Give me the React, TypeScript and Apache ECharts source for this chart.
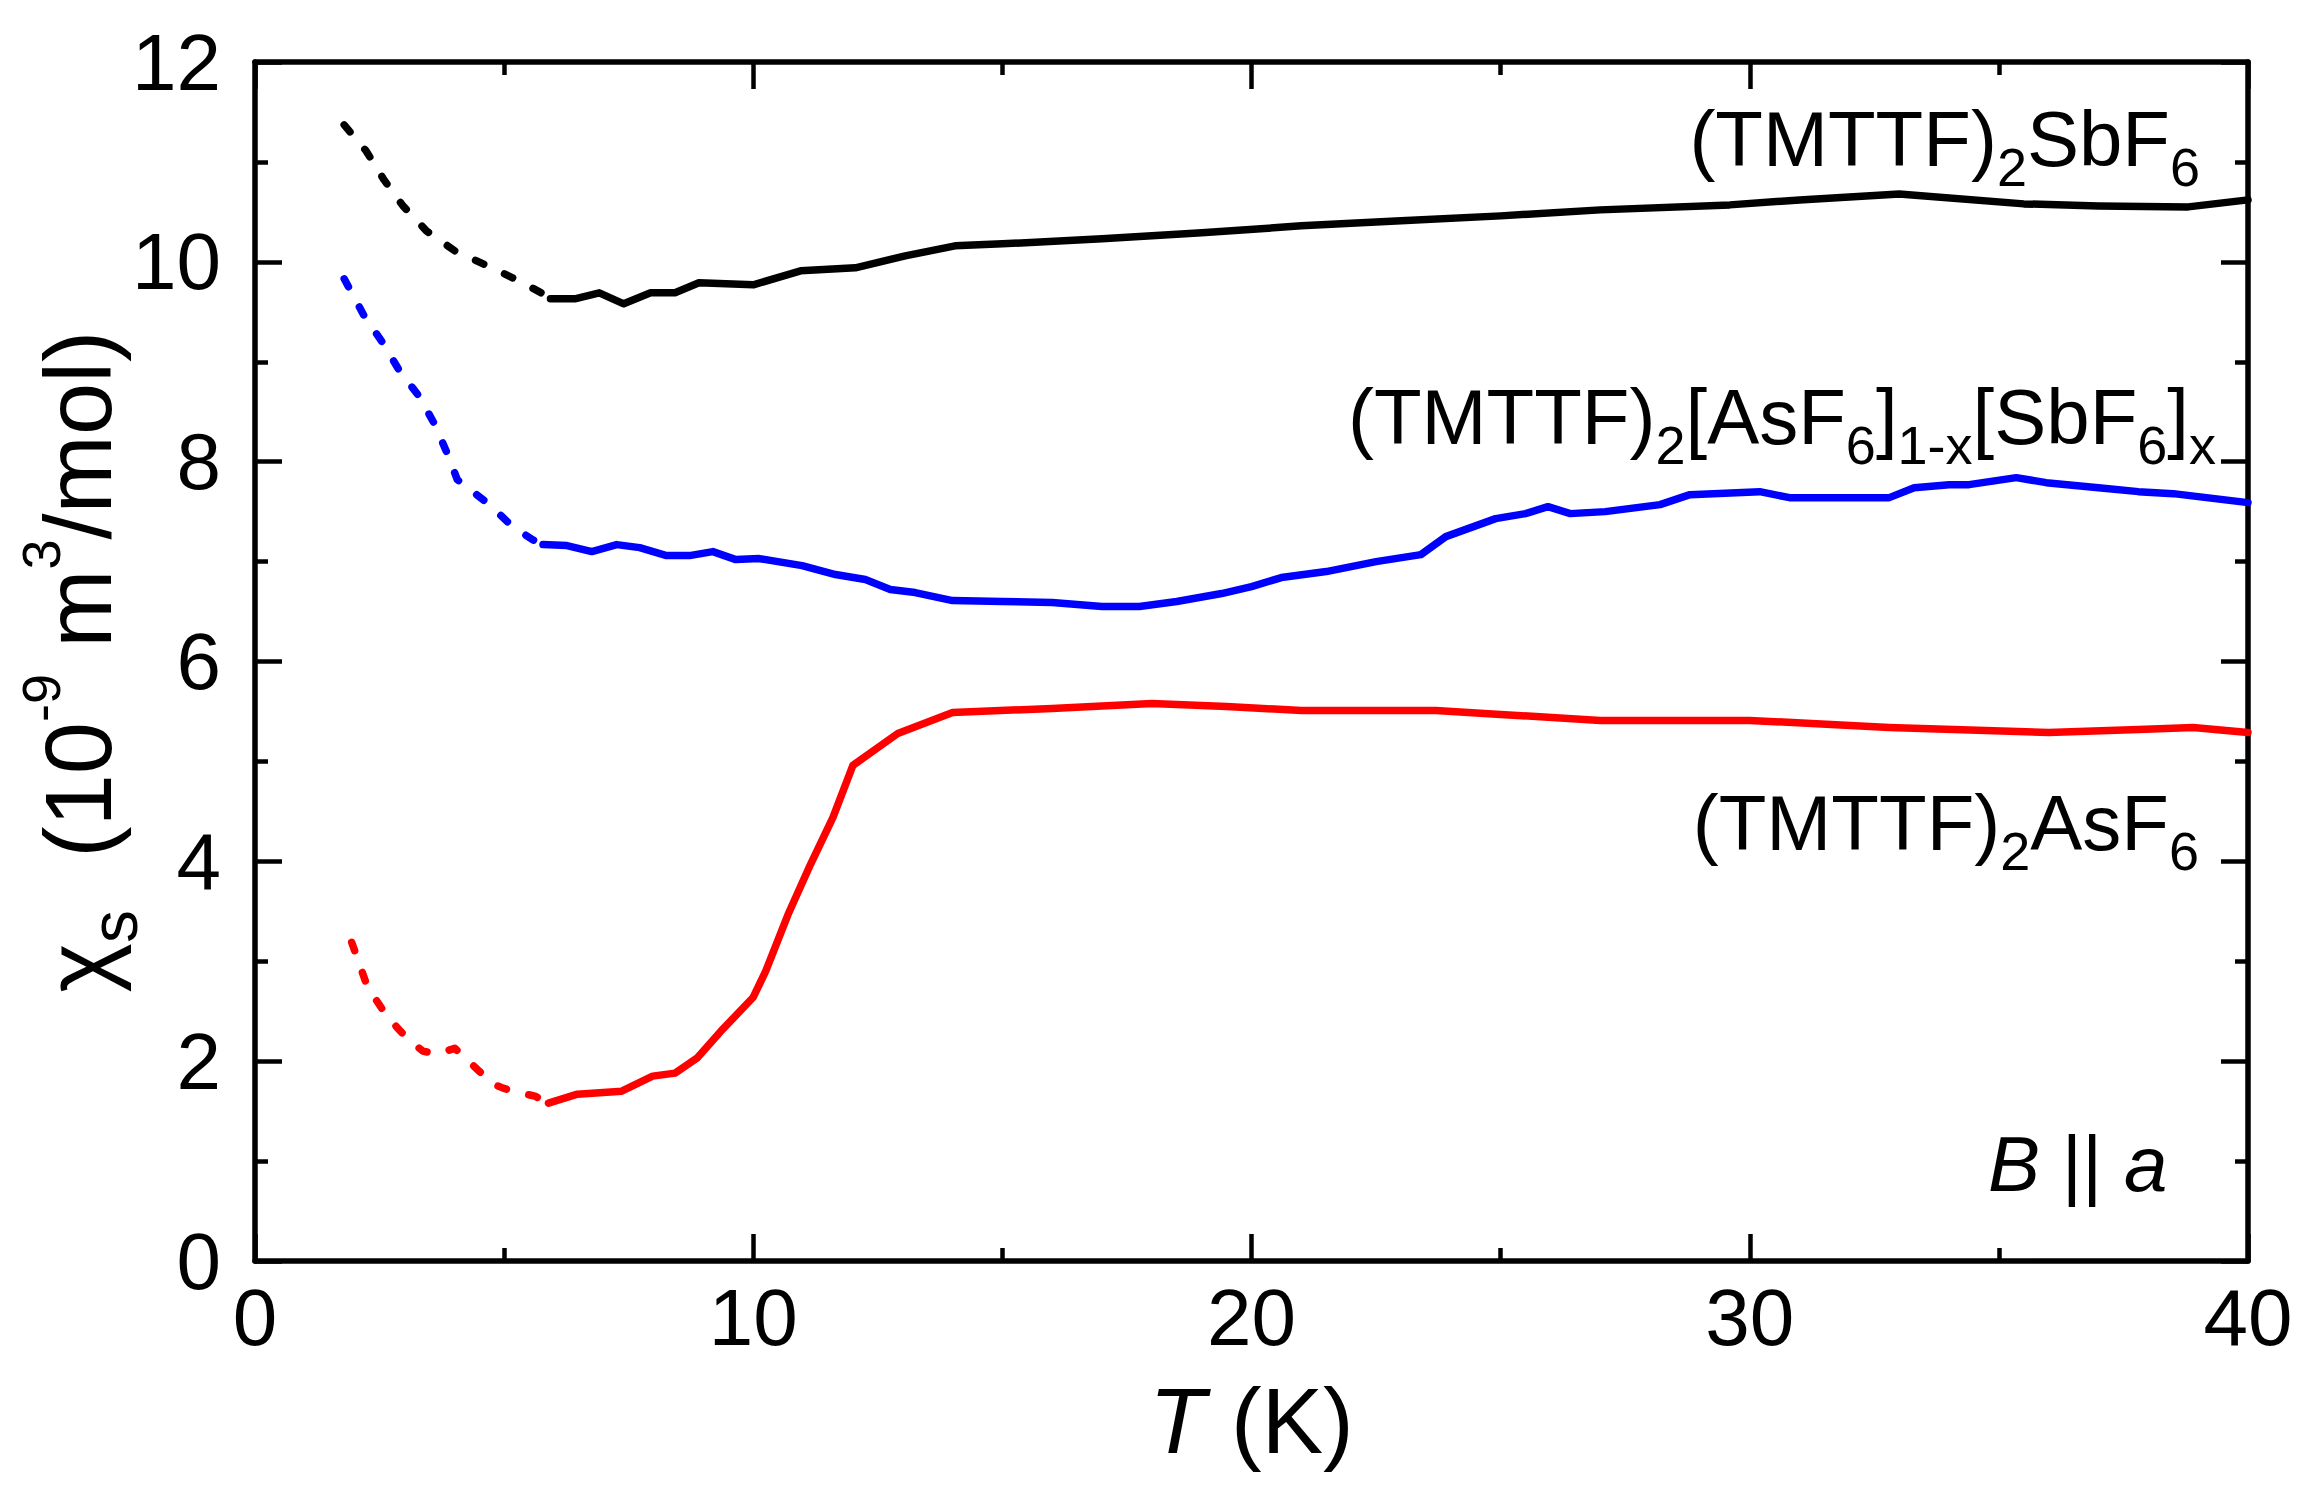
import { useEffect, useRef } from "react";
import * as echarts from "echarts";

const FONT = '"Liberation Sans", Arial, Helvetica, sans-serif';
const W = 2313;
const H = 1507;

// (TMTTF)2SbF6, black
const sbDashT = [1.79, 2.23, 2.59, 2.97, 3.44, 4.01, 4.58, 5.17, 5.71, 5.93];
const sbDashChi = [11.37, 11.11, 10.82, 10.56, 10.31, 10.11, 9.98, 9.84, 9.7, 9.63];
const sbT = [5.93, 6.42, 6.91, 7.4, 7.94, 8.43, 8.91, 10.0, 10.95, 12.05, 13.05, 14.05, 15, 17, 19, 21, 23, 25, 27, 29.6, 31, 33, 35.5, 37, 38.8, 40];
const sbChi = [9.63, 9.63, 9.69, 9.58, 9.69, 9.69, 9.79, 9.77, 9.91, 9.94, 10.06, 10.16, 10.18, 10.23, 10.29, 10.36, 10.41, 10.46, 10.52, 10.57, 10.62, 10.68, 10.58, 10.56, 10.55, 10.62];

// (TMTTF)2[AsF6]1-x[SbF6]x, blue
const mixDashT = [1.79, 2.19, 2.55, 2.9, 3.3, 3.61, 3.86, 4.06, 4.68, 5.17, 5.57, 5.78];
const mixDashChi = [9.83, 9.46, 9.2, 8.91, 8.65, 8.37, 8.08, 7.82, 7.58, 7.35, 7.22, 7.17];
const mixT = [5.78, 6.26, 6.76, 7.26, 7.72, 8.26, 8.72, 9.19, 9.65, 10.12, 10.98, 11.65, 12.25, 12.75, 13.25, 14, 15, 16, 17, 17.75, 18.5, 19.4, 20, 20.6, 21.5, 22.5, 23.4, 23.9, 24.9, 25.5, 25.95, 26.4, 27.1, 28.2, 28.8, 30.2, 30.8, 32.3, 32.8, 33.3, 34, 34.4, 35.35, 35.95, 37, 37.8, 38.5, 40];
const mixChi = [7.17, 7.16, 7.1, 7.17, 7.14, 7.06, 7.06, 7.1, 7.02, 7.03, 6.96, 6.87, 6.82, 6.72, 6.69, 6.61, 6.6, 6.59, 6.55, 6.55, 6.6, 6.68, 6.75, 6.84, 6.9, 7.0, 7.07, 7.25, 7.43, 7.48, 7.55, 7.48, 7.5, 7.57, 7.67, 7.7, 7.64, 7.64, 7.64, 7.74, 7.77, 7.77, 7.84, 7.79, 7.74, 7.7, 7.68, 7.59];

// (TMTTF)2AsF6, red
const asDashT = [1.94, 2.26, 2.65, 2.92, 3.12, 3.37, 3.66, 4.01, 4.22, 4.5, 4.73, 4.98, 5.26, 5.62, 5.89];
const asDashChi = [3.19, 2.74, 2.45, 2.3, 2.2, 2.1, 2.07, 2.13, 2.03, 1.9, 1.78, 1.73, 1.69, 1.65, 1.58];
const asT = [5.89, 6.47, 7.36, 7.98, 8.43, 8.87, 9.35, 10.0, 10.25, 10.7, 11.15, 11.6, 12.0, 12.9, 14.0, 16, 18, 19.5, 21, 23.7, 25, 27, 30, 32.8, 36, 37.8, 38.9, 40];
const asChi = [1.58, 1.67, 1.7, 1.85, 1.88, 2.03, 2.3, 2.64, 2.9, 3.47, 3.97, 4.44, 4.96, 5.28, 5.49, 5.53, 5.58, 5.55, 5.51, 5.51, 5.47, 5.41, 5.41, 5.34, 5.29, 5.32, 5.34, 5.29];

const xRange = { min: 0, max: 40, interval: 10 };
const yRange = { min: 0, max: 12, interval: 2 };

const zip = (t: number[], v: number[]) => t.map((x, i) => [x, v[i]]);

function curve(name: string, t: number[], v: number[], color: string, dashed: boolean) {
  return {
    name,
    type: "line",
    data: zip(t, v),
    xAxisIndex: 0,
    yAxisIndex: 0,
    showSymbol: false,
    symbol: "none",
    silent: true,
    z: 3,
    lineStyle: {
      color,
      width: 7.5,
      type: dashed ? [9, 23] : "solid",
      cap: "round",
      join: "round",
    },
  };
}

const tickLine = { color: "#000", width: 4.5 };

const frameAxis = {
  type: "value",
  axisLine: { show: true, onZero: false, lineStyle: { color: "#000", width: 5.5 } },
  axisTick: { show: true, inside: true, length: 27, lineStyle: tickLine },
  minorTick: { show: true, splitNumber: 2, length: 13, lineStyle: tickLine },
  splitLine: { show: false },
  minorSplitLine: { show: false },
  nameMoveOverlap: false,
};

const tickLabel = {
  show: true,
  color: "#000",
  fontSize: 80,
  fontFamily: FONT,
  showMinLabel: true,
  showMaxLabel: true,
};

const labelStyle = {
  fill: "#000",
  fontSize: 78,
  fontFamily: FONT,
  lineHeight: 100,
  verticalAlign: "middle",
  rich: {
    s: { fontSize: 54, fontFamily: FONT, lineHeight: 100, padding: [56, 0, 0, 0] },
    i: { fontSize: 78, fontFamily: FONT, lineHeight: 100, fontStyle: "italic" },
  },
};

export default function App() {
  const rootRef = useRef<HTMLDivElement>(null);

  useEffect(() => {
    if (!rootRef.current) return;
    const chart = echarts.init(rootRef.current, undefined, {
      renderer: "svg",
      width: W,
      height: H,
    });

    chart.setOption({
      animation: false,
      backgroundColor: "#fff",
      textStyle: { fontFamily: FONT, color: "#000" },
      grid: {
        left: 255,
        right: 65,
        top: 62,
        bottom: 246,
        containLabel: false,
        outerBoundsMode: "none",
      },
      xAxis: [
        {
          ...frameAxis,
          ...xRange,
          position: "bottom",
          axisLabel: { ...tickLabel, margin: 16 },
          name: "{i|T} (K)",
          nameLocation: "middle",
          nameGap: 105,
          nameTextStyle: {
            fontSize: 92,
            lineHeight: 110,
            color: "#000",
            fontFamily: FONT,
            rich: { i: { fontSize: 92, lineHeight: 110, fontStyle: "italic", fontFamily: FONT } },
          },
        },
        { ...frameAxis, ...xRange, position: "top", axisLabel: { show: false } },
      ],
      yAxis: [
        {
          ...frameAxis,
          ...yRange,
          position: "left",
          axisLabel: { ...tickLabel, margin: 34 },
          name: "{c|χ}{s|s}  (10{p|-9} m{p|3}/mol)",
          nameLocation: "middle",
          nameRotate: 90,
          nameGap: 119,
          nameTextStyle: {
            fontSize: 94,
            lineHeight: 116,
            color: "#000",
            fontFamily: FONT,
            rich: {
              c: { fontSize: 94, lineHeight: 116, fontFamily: FONT },
              s: { fontSize: 66, lineHeight: 116, fontFamily: FONT, padding: [71, 0, 0, 0] },
              p: { fontSize: 54, lineHeight: 116, fontFamily: FONT, padding: [0, 0, 74, 0] },
            },
          },
        },
        { ...frameAxis, ...yRange, position: "right", axisLabel: { show: false } },
      ],
      series: [
        curve("SbF6 low", sbDashT, sbDashChi, "#000000", true),
        curve("SbF6", sbT, sbChi, "#000000", false),
        curve("mix low", mixDashT, mixDashChi, "#0000ff", true),
        curve("mix", mixT, mixChi, "#0000ff", false),
        curve("AsF6 low", asDashT, asDashChi, "#ff0000", true),
        curve("AsF6", asT, asChi, "#ff0000", false),
      ],
      graphic: [
        {
          type: "text",
          x: 2200,
          y: 139,
          silent: true,
          style: { ...labelStyle, text: "(TMTTF){s|2}SbF{s|6}", align: "right" },
        },
        {
          type: "text",
          x: 2216,
          y: 417,
          silent: true,
          style: {
            ...labelStyle,
            text: "(TMTTF){s|2}[AsF{s|6}]{s|1-x}[SbF{s|6}]{s|x}",
            align: "right",
          },
        },
        {
          type: "text",
          x: 2199,
          y: 823,
          silent: true,
          style: { ...labelStyle, text: "(TMTTF){s|2}AsF{s|6}", align: "right" },
        },
        {
          type: "text",
          x: 1988,
          y: 1164,
          silent: true,
          style: { ...labelStyle, text: "{i|B} || {i|a}", align: "left" },
        },
      ],
    });

    return () => {
      chart.dispose();
    };
  }, []);

  return (
    <div
      ref={rootRef}
      style={{ position: "absolute", left: 0, top: 0, width: W, height: H, background: "#fff" }}
    />
  );
}
